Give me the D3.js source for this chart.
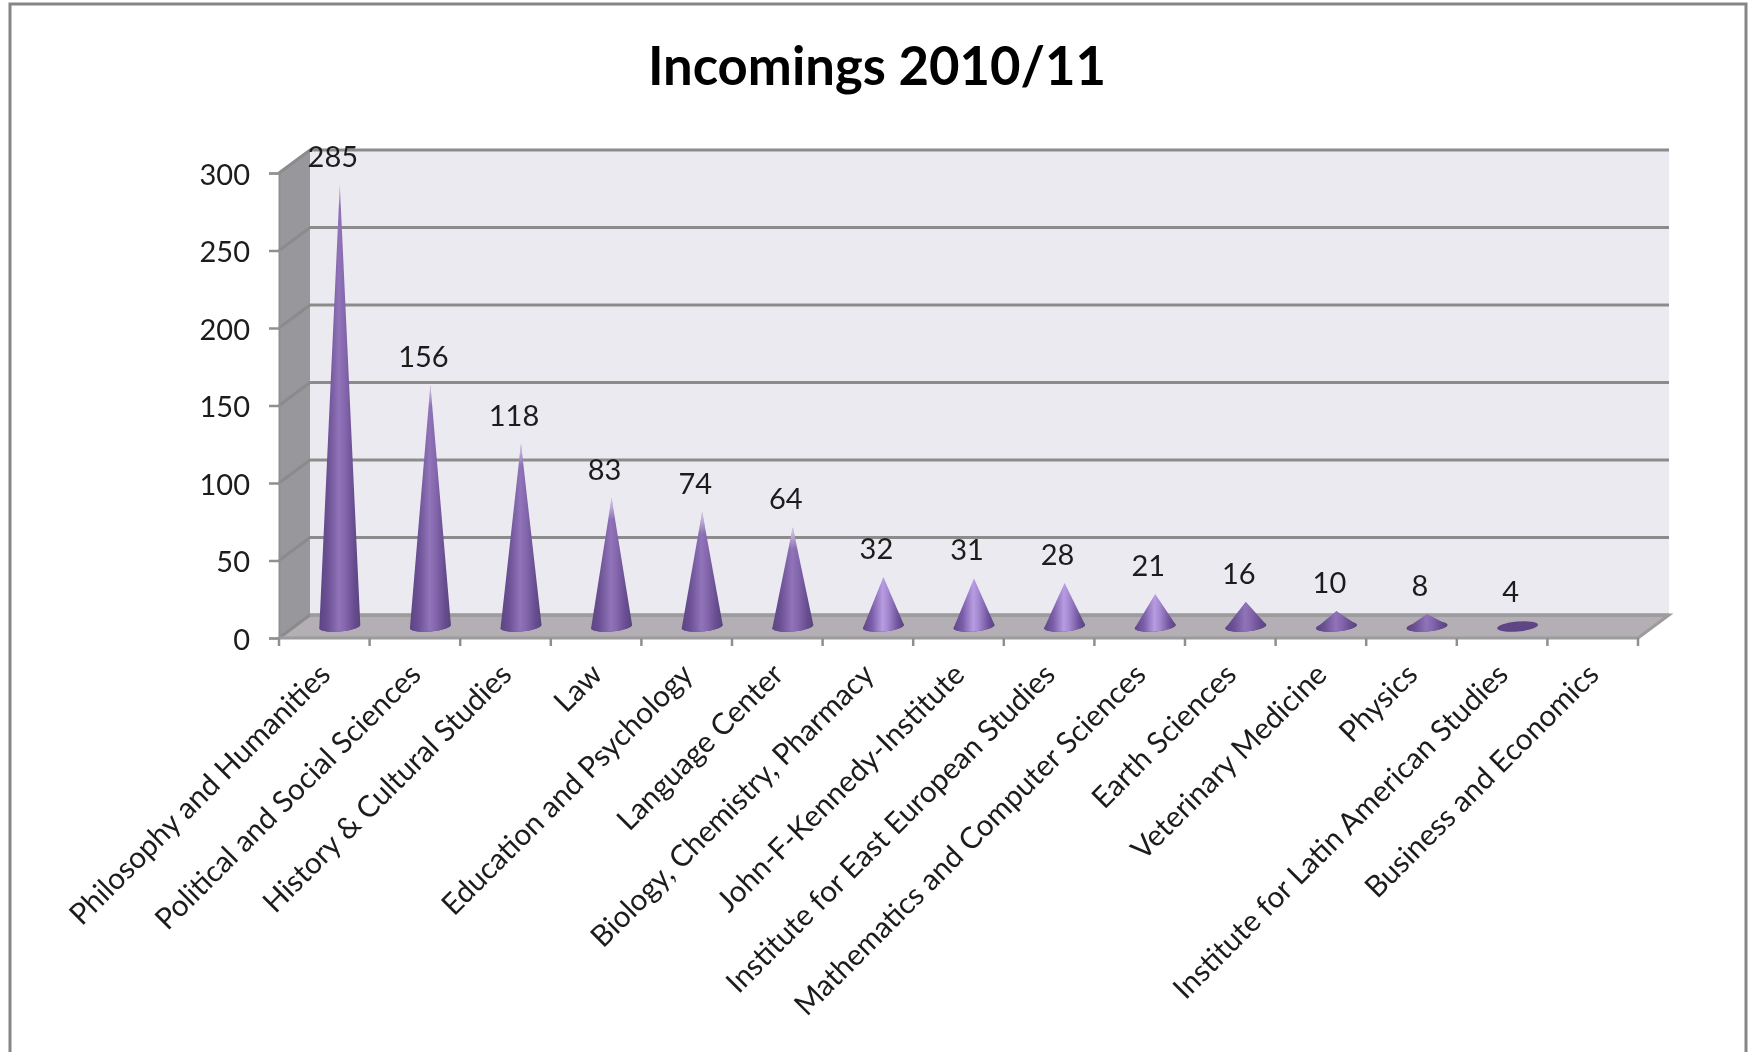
<!DOCTYPE html>
<html lang="en">
<head>
    <meta charset="UTF-8">
    <title>Incomings 2010/11</title>
    <script src="https://d3js.org/d3.v7.min.js"></script>
    <style>
        html, body { margin: 0; padding: 0; background: #fff; }
        /* the source picture is a soft upscaled screenshot */
        svg { display: block; font-family: Lato, "Noto Sans", sans-serif; filter: blur(0.6px); }
        text { fill: #1c1c1c; }
    </style>
</head>
<body>
    <script>
        const categories = ["Philosophy and Humanities", "Political and Social Sciences", "History & Cultural Studies",
            "Law", "Education and Psychology", "Language Center", "Biology, Chemistry, Pharmacy",
            "John-F-Kennedy-Institute", "Institute for East European Studies", "Mathematics and Computer Sciences",
            "Earth Sciences", "Veterinary Medicine", "Physics", "Institute for Latin American Studies",
            "Business and Economics"];
        const incomings = [285, 156, 118, 83, 74, 64, 32, 31, 28, 21, 16, 10, 8, 4, null];
        const yTicks = [0, 50, 100, 150, 200, 250, 300];
        const chartTitle = "Incomings 2010/11";

        const width = 1748, height = 1052;
        const depthX = 31, depthY = 23;
        const plotLeft = 279, plotRight = 1638, plotBottom = 638, plotTop = 173;
        const gridColor = "#8b8b8b";

        const x = d3.scaleBand().domain(categories).range([plotLeft, plotRight]);
        const y = d3.scaleLinear().domain([0, 300]).range([plotBottom, plotTop]);

        const svg = d3.select("body").append("svg")
            .attr("width", width)
            .attr("height", height);

        // outer chart frame, the bottom edge is cut off in the original
        svg.append("path")
            .attr("d", `M10,${height + 5} V4 H1746 V${height + 5}`)
            .attr("fill", "none")
            .attr("stroke", "#868686")
            .attr("stroke-width", 3);

        svg.append("text")
            .attr("x", 877)
            .attr("y", 85)
            .attr("text-anchor", "middle")
            .attr("font-size", 52.6)
            .attr("font-weight", 700)
            .style("fill", "#000")
            .text(chartTitle);

        // gradients for the cones
        const defs = svg.append("defs");

        function sideGradient(id, stops) {
            const g = defs.append("linearGradient").attr("id", id);
            stops.forEach(s => g.append("stop").attr("offset", s[0]).attr("stop-color", s[1]));
        }
        sideGradient("coneDark", [[0, "#5c4583"], [0.2, "#6b5094"], [0.48, "#9073b8"], [0.62, "#8567ad"], [0.85, "#674d90"], [1, "#5a4380"]]);
        sideGradient("coneLight", [[0, "#5f4788"], [0.22, "#7a5da8"], [0.48, "#b79ce2"], [0.6, "#a78bd2"], [0.85, "#6f539c"], [1, "#5a4380"]]);

        // the 3d box: side wall, back wall, floor
        const box = svg.append("g");
        box.append("path")
            .attr("d", `M${plotLeft},${y(300)} L${plotLeft + depthX},${y(300) - depthY} V${y(0) - depthY} L${plotLeft},${y(0)} Z`)
            .attr("fill", "#98979b");
        box.append("rect")
            .attr("x", plotLeft + depthX)
            .attr("y", y(300) - depthY)
            .attr("width", plotRight - plotLeft)
            .attr("height", y(0) - y(300))
            .attr("fill", "#eceaf1");
        box.append("path")
            .attr("d", `M${plotLeft},${y(0)} L${plotLeft + depthX},${y(0) - depthY} H${plotRight + depthX} L${plotRight},${y(0)} Z`)
            .attr("fill", "#b3afb4");

        // gridlines on the back wall and down the side wall
        box.selectAll(".grid")
            .data(yTicks)
            .enter()
            .append("path")
            .attr("class", "grid")
            .attr("d", d => `M${plotLeft},${y(d)} L${plotLeft + depthX},${y(d) - depthY} H${plotRight + depthX}`)
            .attr("fill", "none")
            .attr("stroke", gridColor)
            .attr("stroke-width", 3);

        box.append("path")
            .attr("d", `M${plotLeft + depthX},${y(0) - depthY} H${plotRight + depthX} L${plotRight},${y(0)}`)
            .attr("fill", "none")
            .attr("stroke", "#9c9c9c")
            .attr("stroke-width", 3);

        // axes
        const yAxis = svg.append("g")
            .attr("transform", `translate(${plotLeft},0)`)
            .call(d3.axisLeft(y).tickValues(yTicks).tickSize(10).tickPadding(19));
        yAxis.select(".domain").attr("stroke", "#8f8f8f").attr("stroke-width", 2);
        yAxis.selectAll(".tick line").attr("stroke", "#8f8f8f").attr("stroke-width", 2.5);
        yAxis.selectAll("text").attr("font-size", 29).attr("dy", "0.38em").attr("font-family", "Lato");

        svg.append("line")
            .attr("x1", plotLeft).attr("x2", plotRight)
            .attr("y1", y(0)).attr("y2", y(0))
            .attr("stroke", "#9c9c9c")
            .attr("stroke-width", 3);

        svg.selectAll(".cat-tick")
            .data(categories.map(c => x(c)).concat(plotRight))
            .enter()
            .append("line")
            .attr("class", "cat-tick")
            .attr("x1", d => d).attr("x2", d => d)
            .attr("y1", y(0)).attr("y2", y(0) + 8)
            .attr("stroke", "#8f8f8f")
            .attr("stroke-width", 2.5);

        const xAxis = svg.append("g")
            .attr("transform", `translate(0,${y(0)})`)
            .call(d3.axisBottom(x).tickSize(0));
        xAxis.select(".domain").remove();
        xAxis.selectAll("text")
            .attr("font-size", 29.7)
            .attr("font-family", "Lato")
            .attr("text-anchor", "end")
            .attr("x", 0).attr("y", 0).attr("dy", 0)
            .attr("transform", "translate(2.5,33) rotate(-45)")
            .attr("dominant-baseline", "middle");

        // cones sit halfway into the box depth
        const rx = 20.5, ry = 5, tilt = 1.8;
        const coneData = categories.map((c, i) => ({ name: c, value: incomings[i] })).filter(d => d.value !== null);
        const coneX = d => x(d.name) + x.bandwidth() / 2 + depthX / 2;
        const baseY = plotBottom - depthY / 2;
        const tipY = d => y(d.value) - depthY / 2;

        function conePath(d) {
            const cx = coneX(d);
            return `M${cx - rx},${baseY + tilt} L${cx},${tipY(d)} L${cx + rx},${baseY - tilt}` +
                ` A${rx},${ry} -5 0 1 ${cx - rx},${baseY + tilt} Z`;
        }

        const cones = svg.selectAll(".cone")
            .data(coneData)
            .enter()
            .append("g")
            .attr("class", "cone");

        cones.append("ellipse")
            .attr("cx", coneX)
            .attr("cy", baseY)
            .attr("rx", rx)
            .attr("ry", ry)
            .attr("transform", d => `rotate(-5 ${coneX(d)} ${baseY})`)
            .attr("fill", "#5d4586");

        // shorter cones catch more light in the original, the squat ones do not
        cones.filter(d => d.value > 4).append("path")
            .attr("d", conePath)
            .attr("fill", d => d.value < 50 && d.value > 16 ? "url(#coneLight)" : "url(#coneDark)");

        // the very tall tips wash out towards the wall colour
        cones.filter(d => d.value > 50).each(function (d, i) {
            const g = defs.append("linearGradient")
                .attr("id", "tipFade" + i)
                .attr("gradientUnits", "userSpaceOnUse")
                .attr("x1", 0).attr("x2", 0)
                .attr("y1", tipY(d)).attr("y2", tipY(d) + 22);
            g.append("stop").attr("offset", 0).attr("stop-color", "#eceaf1").attr("stop-opacity", 0.8);
            g.append("stop").attr("offset", 1).attr("stop-color", "#eceaf1").attr("stop-opacity", 0);
            d3.select(this).append("path")
                .attr("d", conePath)
                .attr("fill", `url(#tipFade${i})`);
        });

        svg.selectAll(".value-label")
            .data(coneData)
            .enter()
            .append("text")
            .attr("class", "value-label")
            .attr("x", d => coneX(d) - 7)
            .attr("y", d => tipY(d) - 18)
            .attr("text-anchor", "middle")
            .attr("font-size", 29)
            .text(d => d.value);
    </script>
</body>
</html>
